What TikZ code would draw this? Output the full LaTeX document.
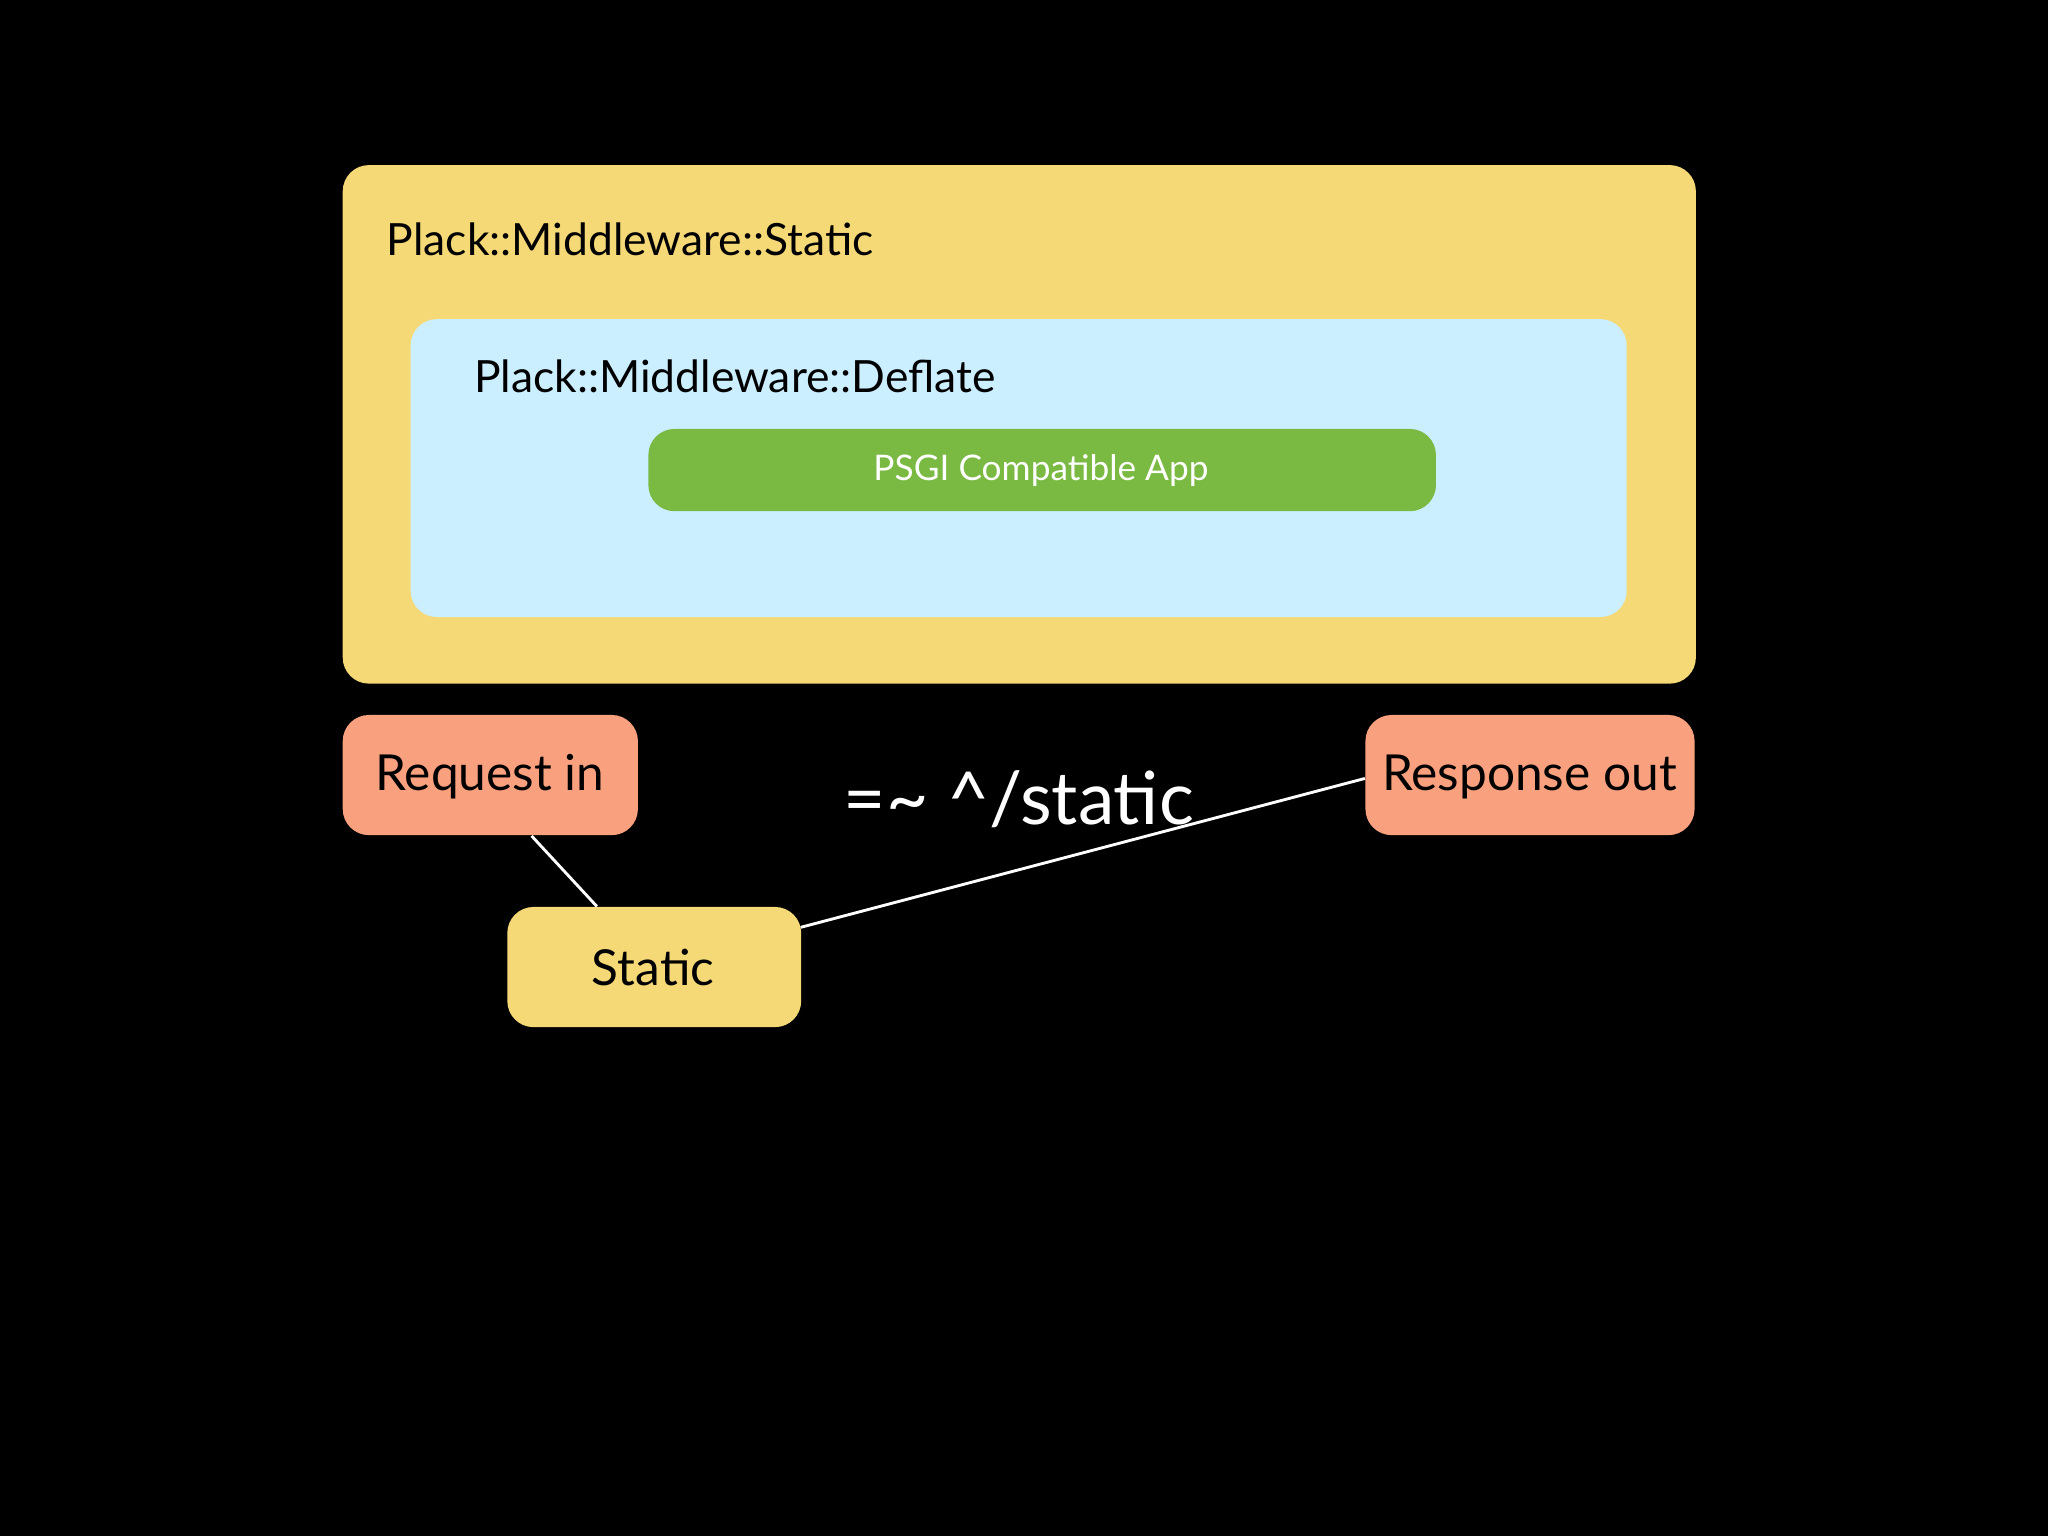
\documentclass[tikz,border=0pt]{standalone}
\usepackage{fontspec}
\setmainfont{Lato}
\definecolor{ybox}{HTML}{F6D977}
\definecolor{bbox}{HTML}{CCEFFF}
\definecolor{gbox}{HTML}{7AB942}
\definecolor{sbox}{HTML}{F9A07E}
\begin{document}
\begin{tikzpicture}[x=0.5pt,y=-0.5pt,
  box/.style={rounded corners=10pt,inner sep=0pt,anchor=north west},
  lbl/.style={text=black,font=\fontsize{17}{20}\selectfont,anchor=west},
  blbl/.style={text=black,font=\fontsize{19}{22}\selectfont},
  conn/.style={draw=white,line width=1.1pt}]
\fill[black] (0,0) rectangle (1568,1176);
\node[box,fill=ybox,minimum width=518pt,minimum height=198.5pt] (outer) at (262,126) {};
\node[box,fill=bbox,minimum width=465.5pt,minimum height=114pt] (inner) at (314,244) {};
\node[box,fill=gbox,minimum width=301.5pt,minimum height=31.5pt] (app) at (496,328) {};
\node[text=white,font=\fontsize{13.5}{16}\selectfont] (apptxt) at (797,360) {PSGI Compatible App};
\node[lbl] (outtxt) at (289,183) {Plack::Middleware::Static};
\node[lbl] (intxt) at (356,288) {Plack::Middleware::Deflate};
\node[box,fill=sbox,minimum width=113pt,minimum height=46pt] (req) at (262,547) {};
\node[blbl] (reqtxt) at (375,595) {Request in};
\node[box,fill=sbox,minimum width=126pt,minimum height=46pt] (resp) at (1045,547) {};
\node[blbl] (resptxt) at (1171,595) {Response out};
\node[box,fill=ybox,minimum width=112.5pt,minimum height=46pt] (stat) at (388,694) {};
\node[blbl] (stattxt) at (500,741) {Static};
\coordinate (r1) at (407,640);
\coordinate (s1) at (457,694);
\coordinate (s2) at (613,710);
\coordinate (o1) at (1045,596);
\draw[conn] (r1) -- (s1);
\draw[conn] (s2) -- (o1);
\node[text=white,font=\fontsize{28}{32}\selectfont] (rx) at (780,612) {=\char"007E{} \^{}/static};
\end{tikzpicture}
\end{document}
